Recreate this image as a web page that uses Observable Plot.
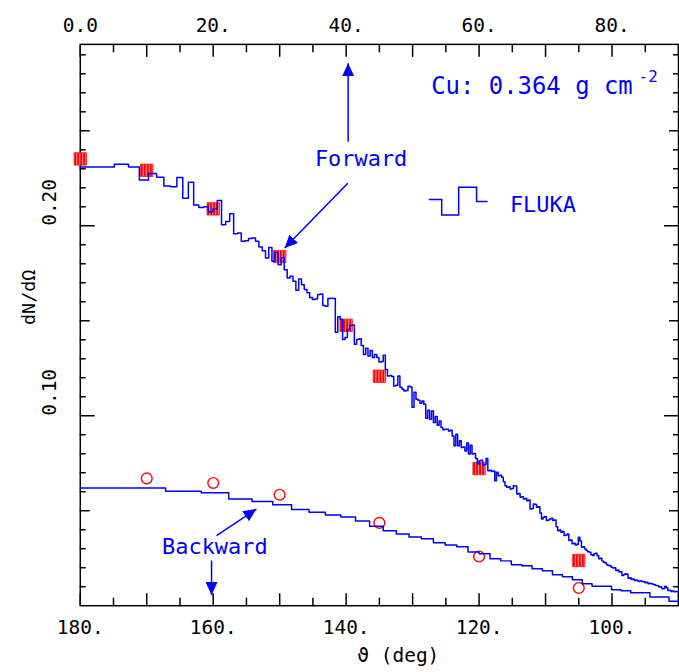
<!DOCTYPE html>
<html>
<head>
<meta charset="utf-8">
<script src="https://cdn.jsdelivr.net/npm/d3@7"></script>
<script src="https://cdn.jsdelivr.net/npm/@observablehq/plot@0.6"></script>
<style>
html, body { margin: 0; padding: 0; background: #fff; overflow: hidden; }
#chart svg { display: block; }
</style>
</head>
<body>
<div id="chart"></div>
<script>
// ---------------- data ----------------
// measured points: forward hemisphere (squares), angle in degrees
const forwardAngles = [0, 10, 20, 30, 40, 45, 60, 75];
const forwardValues = [0.2352, 0.2292, 0.2089, 0.1838, 0.1476, 0.1208, 0.0722, 0.0238];
// measured points: backward hemisphere (circles), angle in degrees
const backwardAngles = [170, 160, 150, 135, 120, 105];
const backwardValues = [0.0670, 0.0646, 0.0584, 0.0436, 0.0259, 0.0093];

// FLUKA histograms, bins uniform in cos(theta) from the beam axis to 90 deg
const flukaForward = [
  0.2310,0.2324,0.2310,0.2241,0.2275,0.2256,0.2210,0.2206,0.2254,0.2145,
  0.2229,0.2110,0.2096,0.2100,0.2073,0.2089,0.2133,0.2005,0.2023,0.2063,
  0.1958,0.1962,0.1918,0.1921,0.1933,0.1936,0.1918,0.1888,0.1869,0.1830,
  0.1886,0.1813,0.1860,0.1795,0.1832,0.1769,0.1725,0.1734,0.1708,0.1660,
  0.1720,0.1690,0.1664,0.1648,0.1622,0.1612,0.1615,0.1638,0.1641,0.1580,
  0.1576,0.1617,0.1619,0.1617,0.1440,0.1521,0.1507,0.1402,0.1412,0.1454,
  0.1475,0.1478,0.1376,0.1402,0.1405,0.1370,0.1323,0.1355,0.1314,0.1344,
  0.1306,0.1323,0.1307,0.1283,0.1286,0.1318,0.1244,0.1209,0.1212,0.1206,
  0.1157,0.1160,0.1209,0.1150,0.1139,0.1130,0.1133,0.1155,0.1151,0.1045,
  0.1124,0.1087,0.1082,0.1066,0.1078,0.1061,0.0987,0.1029,0.0982,0.1025,
  0.0964,0.0996,0.0950,0.0973,0.0938,0.0926,0.0929,0.0929,0.0920,0.0923,
  0.0894,0.0842,0.0903,0.0842,0.0868,0.0833,0.0836,0.0815,0.0856,0.0798,
  0.0845,0.0798,0.0801,0.0775,0.0746,0.0763,0.0766,0.0740,0.0743,0.0775,
  0.0710,0.0713,0.0707,0.0709,0.0658,0.0702,0.0684,0.0687,0.0676,0.0653,
  0.0632,0.0623,0.0626,0.0614,0.0617,0.0632,0.0630,0.0588,0.0591,0.0571,
  0.0574,0.0562,0.0565,0.0553,0.0556,0.0509,0.0512,0.0536,0.0533,0.0518,
  0.0521,0.0488,0.0457,0.0466,0.0469,0.0448,0.0451,0.0457,0.0460,0.0448,
  0.0451,0.0415,0.0395,0.0398,0.0387,0.0390,0.0369,0.0372,0.0378,0.0343,
  0.0346,0.0326,0.0329,0.0320,0.0323,0.0361,0.0341,0.0308,0.0311,0.0299,
  0.0290,0.0284,0.0282,0.0268,0.0264,0.0273,0.0276,0.0263,0.0247,0.0250,
  0.0236,0.0229,0.0226,0.0215,0.0212,0.0210,0.0203,0.0198,0.0200,0.0185,
  0.0188,0.0177,0.0179,0.0159,0.0163,0.0168,0.0166,0.0145,0.0147,0.0138,
  0.0140,0.0133,0.0135,0.0131,0.0128,0.0130,0.0128,0.0126,0.0121,0.0123,
  0.0116,0.0118,0.0116,0.0113,0.0110,0.0107,0.0105,0.0098,0.0100,0.0089,
  0.0091,0.0103,0.0095,0.0080,0.0082,0.0075,0.0077,0.0074,0.0075,0.0074
];
const flukaBackward = [
  0.0619,0.0602,0.0595,0.0562,0.0548,0.0532,0.0506,0.0492,0.0478,0.0467,
  0.0446,0.0418,0.0394,0.0378,0.0362,0.0352,0.0331,0.0320,0.0311,0.0283,
  0.0273,0.0247,0.0236,0.0215,0.0210,0.0194,0.0184,0.0163,0.0152,0.0136,
  0.0115,0.0103,0.0103,0.0084,0.0079,0.0068,0.0068,0.0046,0.0046,0.0023
];

// tick labels
const topTickLabels = [0, 20, 40, 60, 80];           // forward angle
const bottomTickLabels = [180, 160, 140, 120, 100];  // backward angle
const xMajorTicks = [0, 10, 20, 30, 40, 50, 60, 70, 80, 90];
const xMinorTicks = [5, 15, 25, 35, 45, 55, 65, 75, 85];
const yLabelTicks = [0.10, 0.20];
const yMajorTicks = [0.10, 0.20];
const yMidTicks = [0.05, 0.15, 0.25];
const yMinorTicks = [0.01,0.02,0.03,0.04,0.06,0.07,0.08,0.09,0.11,0.12,0.13,0.14,
                     0.16,0.17,0.18,0.19,0.21,0.22,0.23,0.24,0.26,0.27,0.28,0.29];

// ---------------- helpers ----------------
const MONO = "'DejaVu Sans Mono', monospace";
const BLUE = "#0000ff";
const RED = "#ff0000";

// histogram bins uniform in cos(theta): edges as angle (deg) from the axis
function stepPoints(values) {
  const n = values.length;
  const edges = d3.range(n + 1).map(i => Math.acos(1 - i / n) * 180 / Math.PI);
  const pts = values.map((v, i) => ({x: edges[i], y: v}));
  pts.push({x: edges[n], y: values[n - 1]});
  return pts;
}

const fwdPts = forwardAngles.map((a, i) => ({x: a, y: forwardValues[i]}));
const bwdPts = backwardAngles.map((a, i) => ({x: 180 - a, y: backwardValues[i]}));

const arrows = [
  {x1: 40.3, y1: 0.2442, x2: 40.3, y2: 0.2856},
  {x1: 40.25, y1: 0.2224, x2: 30.75, y2: 0.1883},
  {x1: 20.5, y1: 0.0369, x2: 26.5, y2: 0.0509},
  {x1: 19.75, y1: 0.0238, x2: 19.75, y2: 0.0056}
];

const tickOpts = {tickFormat: () => "", label: null, strokeWidth: 1.5, stroke: "#000"};

const plot = Plot.plot({
  width: 681,
  height: 672,
  marginLeft: 80,
  marginRight: 1,
  marginTop: 44,
  marginBottom: 65,
  x: {domain: [0, 90], axis: null},
  y: {domain: [0, 0.2955], axis: null},
  style: {background: "white", overflow: "visible"},
  marks: [
    // ticks (inward)
    Plot.axisX(xMajorTicks, {anchor: "bottom", tickSize: -12, ...tickOpts}),
    Plot.axisX(xMinorTicks, {anchor: "bottom", tickSize: -7.5, ...tickOpts}),
    Plot.axisX(xMajorTicks, {anchor: "top", tickSize: -12, ...tickOpts}),
    Plot.axisX(xMinorTicks, {anchor: "top", tickSize: -7.5, ...tickOpts}),
    Plot.axisY(yMajorTicks, {anchor: "left", tickSize: -15, ...tickOpts}),
    Plot.axisY(yMidTicks, {anchor: "left", tickSize: -10, ...tickOpts}),
    Plot.axisY(yMinorTicks, {anchor: "left", tickSize: -6, ...tickOpts}),
    Plot.axisY(yMajorTicks, {anchor: "right", tickSize: -15, ...tickOpts}),
    Plot.axisY(yMidTicks, {anchor: "right", tickSize: -10, ...tickOpts}),
    Plot.axisY(yMinorTicks, {anchor: "right", tickSize: -6, ...tickOpts}),
    Plot.frame({stroke: "#000", strokeWidth: 1.5}),

    // tick labels
    Plot.text(topTickLabels, {x: d => d, frameAnchor: "top", dy: -26,
      text: d => d === 0 ? "0.0" : `${d}.`, fontFamily: MONO, fontSize: 19.5, fill: "#000"}),
    Plot.text(bottomTickLabels, {x: d => 180 - d, frameAnchor: "bottom", dy: 28,
      text: d => `${d}.`, fontFamily: MONO, fontSize: 19.5, fill: "#000"}),
    Plot.text(yLabelTicks, {y: d => d, frameAnchor: "left", dx: -31, rotate: -90,
      text: d => d.toFixed(2), fontFamily: MONO, fontSize: 19.5, fill: "#000"}),
    Plot.text(["ϑ (deg)"], {frameAnchor: "bottom", dx: 19, dy: 56, text: d => d,
      fontFamily: MONO, fontSize: 19.5, fill: "#000"}),
    Plot.text(["dN/dΩ"], {frameAnchor: "left", dx: -51, dy: 0, rotate: -90, text: d => d,
      fontFamily: MONO, fontSize: 18.5, fill: "#000"}),

    // measured data
    Plot.dot(fwdPts, {x: "x", y: "y", symbol: "square", r: 7, fill: "url(#hatch)",
      stroke: "#ff1010", strokeWidth: 0.8}),
    Plot.dot(bwdPts, {x: "x", y: "y", r: 5.4, stroke: RED, strokeWidth: 1.4, fill: "none"}),

    // FLUKA histograms
    Plot.line(stepPoints(flukaForward), {x: "x", y: "y", curve: "step-after",
      stroke: BLUE, strokeWidth: 1.5}),
    Plot.line(stepPoints(flukaBackward), {x: "x", y: "y", curve: "step-after",
      stroke: BLUE, strokeWidth: 1.5}),

    // annotations
    Plot.link(arrows, {x1: "x1", y1: "y1", x2: "x2", y2: "y2", stroke: BLUE, strokeWidth: 1.5}),
    Plot.text(["Cu: 0.364 g cm"], {x: 52.8, y: 0.2735, textAnchor: "start", text: d => d,
      fontFamily: MONO, fontSize: 24, fill: BLUE}),
    Plot.text(["-2"], {x: 84.0, y: 0.2785, textAnchor: "start", text: d => d,
      fontFamily: MONO, fontSize: 16, fill: BLUE}),
    Plot.text(["Forward"], {x: 42.25, y: 0.2354, text: d => d,
      fontFamily: MONO, fontSize: 22, fill: BLUE}),
    Plot.text(["FLUKA"], {x: 69.6, y: 0.2110, text: d => d,
      fontFamily: MONO, fontSize: 22, fill: BLUE}),
    Plot.text(["Backward"], {x: 20.25, y: 0.0310, text: d => d,
      fontFamily: MONO, fontSize: 22, fill: BLUE})
  ]
});

// defs: hatch pattern for the squares and filled arrowheads
plot.insertAdjacentHTML("afterbegin",
  `<defs>
     <pattern id="hatch" patternUnits="userSpaceOnUse" width="3" height="3">
       <rect width="3" height="3" fill="${RED}"/>
       <rect x="2" width="1" height="3" fill="#ff9c9c"/>
     </pattern>
     <marker id="ah" viewBox="0 0 13 12" refX="13" refY="6" markerWidth="13" markerHeight="12"
             markerUnits="userSpaceOnUse" orient="auto">
       <path d="M0,0L13,6L0,12Z" fill="${BLUE}"/>
     </marker>
   </defs>`);
plot.querySelectorAll('g[aria-label="link"] path, g[aria-label="link"] line')
  .forEach(p => p.setAttribute("marker-end", "url(#ah)"));

// FLUKA legend glyph (step symbol) left of the label
const xs = plot.scale("x"), ys = plot.scale("y");
const gx = xs.apply(52.5), gy = ys.apply(0.2136);
const ns = "http://www.w3.org/2000/svg";
const glyph = document.createElementNS(ns, "path");
glyph.setAttribute("d", `M${gx},${gy}h13v15.7h17v-28h18v14.3h11`);
glyph.setAttribute("fill", "none");
glyph.setAttribute("stroke", BLUE);
glyph.setAttribute("stroke-width", "1.5");
plot.appendChild(glyph);

document.getElementById("chart").appendChild(plot);
</script>
</body>
</html>
